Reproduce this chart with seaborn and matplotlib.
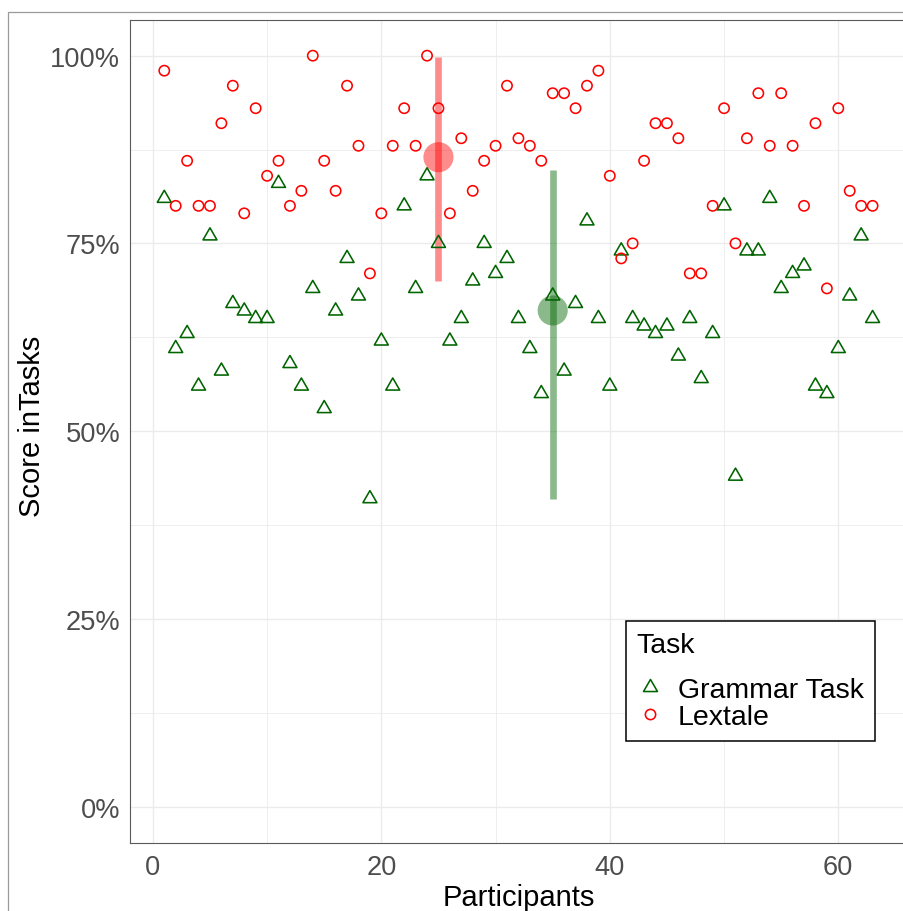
import numpy as np
import pandas as pd
import matplotlib
matplotlib.use("Agg")
import matplotlib.pyplot as plt
import seaborn as sns
from matplotlib.path import Path
from matplotlib.lines import Line2D
from matplotlib.patches import Rectangle
from matplotlib.ticker import FixedLocator, FuncFormatter

# ---- data -------------------------------------------------------------
participants = list(range(1, 64))

grammar_pct = [81, 61, 63, 56, 76, 58, 67, 66, 65, 65,
               83, 59, 56, 69, 53, 66, 73, 68, 41, 62,
               56, 80, 69, 84, 75, 62, 65, 70, 75, 71,
               73, 65, 61, 55, 68, 58, 67, 78, 65, 56,
               74, 65, 64, 63, 64, 60, 65, 57, 63, 80,
               44, 74, 74, 81, 69, 71, 72, 56, 55, 61,
               68, 76, 65]

lextale_pct = [98, 80, 86, 80, 80, 91, 96, 79, 93, 84,
               86, 80, 82, 100, 86, 82, 96, 88, 71, 79,
               88, 93, 88, 100, 93, 79, 89, 82, 86, 88,
               96, 89, 88, 86, 95, 95, 93, 96, 98, 84,
               73, 75, 86, 91, 91, 89, 71, 71, 80, 93,
               75, 89, 95, 88, 95, 88, 80, 91, 69, 93,
               82, 80, 80]

tasks = ["Grammar Task", "Lextale"]
task_colors = ["#006400", "#FF0000"]

# summary bars: x position and vertical extent for each task
summary_x = [35, 25]
summary_low = [41.0, 70.0]
summary_high = [84.8, 99.8]

# ---- long table ---------------------------------------------------------
df = pd.DataFrame({
    "Participant": participants * 2,
    "Task": [tasks[0]] * len(grammar_pct) + [tasks[1]] * len(lextale_pct),
    "Score": np.array(grammar_pct + lextale_pct) / 100.0,
})
summary = pd.DataFrame({
    "Task": tasks,
    "x": summary_x,
    "mean": [np.mean(grammar_pct) / 100.0, np.mean(lextale_pct) / 100.0],
    "low": np.array(summary_low) / 100.0,
    "high": np.array(summary_high) / 100.0,
})
palette = dict(zip(tasks, task_colors))

# open triangle with its centroid on the data point
triangle = Path([(0, 1), (-0.866, -0.5), (0.866, -0.5), (0, 1)],
                [Path.MOVETO, Path.LINETO, Path.LINETO, Path.CLOSEPOLY])
markers = {tasks[0]: triangle, tasks[1]: "o"}
marker_sizes = {tasks[0]: 11.6, tasks[1]: 7.4}

# ---- figure -------------------------------------------------------------
sns.set_theme(style="white")
plt.rcParams["font.family"] = ["Liberation Sans", "DejaVu Sans"]

W, H = 904, 912
fig = plt.figure(figsize=(W / 100, H / 100), dpi=100)
px_l, px_r, px_t, px_b = 130, 908, 21, 844
ax = fig.add_axes([px_l / W, 1 - px_b / H, (px_r - px_l) / W, (px_b - px_t) / H])

# outer plot border
fig.patches.append(Rectangle((8 / W, -0.05), 1.2, (H - 13) / H + 0.05,
                             transform=fig.transFigure, fill=False,
                             edgecolor="#9a9a9a", linewidth=0.9))

# summary ranges and means
for _, row in summary.iterrows():
    ax.vlines(row["x"], row["low"], row["high"], colors=palette[row["Task"]],
              linewidth=4.8, alpha=0.45, zorder=2)
sns.scatterplot(data=summary, x="x", y="mean", hue="Task", palette=palette,
                s=470, alpha=0.45, linewidth=0, legend=False, ax=ax, zorder=3)

# participant scores
sns.scatterplot(data=df, x="Participant", y="Score", hue="Task",
                style="Task", markers=markers, palette=palette,
                s=60, linewidth=1.15, legend=False, ax=ax, zorder=4)
coll = ax.collections[-1]
fcs = coll.get_facecolors()
coll.set_edgecolors(fcs)
coll.set_facecolors("none")
coll.set_sizes(np.array([marker_sizes[t] ** 2 for t in df["Task"]]))

# ---- axes styling -------------------------------------------------------
ax.set_xlim(-2.0, 66.1)
ax.set_ylim(-0.0486, 1.0475)
ax.xaxis.set_major_locator(FixedLocator([0, 20, 40, 60]))
ax.xaxis.set_minor_locator(FixedLocator([10, 30, 50]))
ax.yaxis.set_major_locator(FixedLocator([0, 0.25, 0.5, 0.75, 1.0]))
ax.yaxis.set_minor_locator(FixedLocator([0.125, 0.375, 0.625, 0.875]))
ax.yaxis.set_major_formatter(FuncFormatter(lambda v, p: f"{v * 100:.0f}%"))

ax.set_facecolor("white")
ax.grid(which="major", color="#ebebeb", linewidth=1.0, zorder=0)
ax.grid(which="minor", color="#ebebeb", linewidth=0.6, zorder=0)
ax.set_axisbelow(True)
for name, sp in ax.spines.items():
    sp.set_visible(name != "right")
    sp.set_color("#5a5a5a")
    sp.set_linewidth(0.8)

ax.tick_params(axis="both", which="major", length=3, width=0.8, color="#333333",
               labelsize=19.6, labelcolor="#4d4d4d", direction="out")
ax.tick_params(axis="x", which="major", pad=5)
ax.tick_params(axis="y", which="major", pad=4)
ax.tick_params(which="minor", length=0)

ax.set_xlabel("Participants", fontsize=21, color="black")
ax.set_ylabel("Score inTasks", fontsize=21, color="black")
ax.xaxis.set_label_coords(0.5, -0.049)
ax.yaxis.set_label_coords(-0.108, 0.508)

# ---- legend -------------------------------------------------------------
handles = [Line2D([], [], linestyle="none", marker=markers[t],
                  markersize=marker_sizes[t], markerfacecolor="none",
                  markeredgecolor=palette[t], markeredgewidth=1.15)
           for t in tasks]
leg = ax.legend(handles, tasks, title="Task", loc="upper left",
                bbox_to_anchor=((626 - px_l) / (px_r - px_l), (px_b - 622) / (px_b - px_t)),
                borderaxespad=0, frameon=True, fancybox=False, framealpha=1,
                edgecolor="black", fontsize=20.5, title_fontsize=20.5,
                alignment="left", borderpad=0.38, handlelength=0.95,
                handletextpad=0.5, labelspacing=0.05)
leg.get_frame().set_linewidth(1.1)
leg.get_title().set_color("black")
for txt in leg.get_texts():
    txt.set_color("black")
# wider gap between the legend title and its entries
leg._legend_box.sep = 13.5

fig.savefig("out.png", dpi=100)
